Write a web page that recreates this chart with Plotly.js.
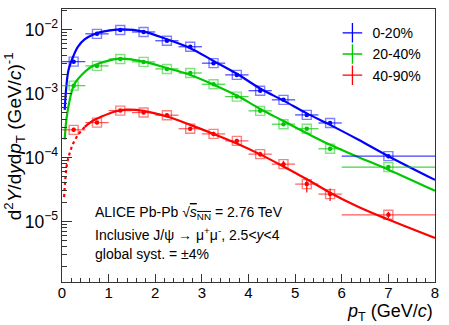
<!DOCTYPE html>
<html>
<head>
<meta charset="utf-8">
<script src="https://cdn.plot.ly/plotly-3.0.1.min.js"></script>
<style>body{margin:0;padding:0;background:#fff}#chart{width:449px;height:325px}</style>
</head>
<body>
<div id="chart"></div>
<script>
// ---- data ----
const binCenters = [0.25, 0.75, 1.25, 1.75, 2.25, 2.75, 3.25, 3.75, 4.25, 4.75, 5.25, 5.75, 7.0];
const binHalfWidths = [0.25, 0.25, 0.25, 0.25, 0.25, 0.25, 0.25, 0.25, 0.25, 0.25, 0.25, 0.25, 1.0];

const yield0_20 = [3.16e-3, 8.6e-3, 9.9e-3, 9.2e-3, 6.7e-3, 5.4e-3, 2.99e-3, 1.96e-3, 1.11e-3, 7.98e-4, 4.64e-4, 3.47e-4, 1.05e-4];
const stat0_20 = [1.5e-4, 3e-4, 3e-4, 3e-4, 2e-4, 2e-4, 1e-4, 7e-5, 5e-5, 4e-5, 2.5e-5, 2e-5, 8e-6];

const yield20_40 = [1.33e-3, 2.71e-3, 3.48e-3, 3.13e-3, 2.43e-3, 2.1e-3, 1.40e-3, 8.97e-4, 5.37e-4, 3.32e-4, 2.82e-4, 1.37e-4, 7.08e-5];
const stat20_40 = [8e-5, 1.3e-4, 1.5e-4, 1.3e-4, 1e-4, 9e-5, 7e-5, 5e-5, 3e-5, 2e-5, 1.8e-5, 1e-5, 5e-6];

const yield40_90 = [2.71e-4, 3.52e-4, 5.42e-4, 5.05e-4, 4.59e-4, 2.82e-4, 2.34e-4, 1.82e-4, 1.13e-4, 7.88e-5, 3.84e-5, 2.68e-5, 1.27e-5];
const stat40_90 = [2e-5, 2.5e-5, 3e-5, 3e-5, 3e-5, 2e-5, 2e-5, 1.5e-5, 1e-5, 1e-5, 1e-5, 6e-6, 1.5e-6];

// fit curves
const fitPt0_20 = [0.058, 0.093, 0.14, 0.24, 0.34, 0.49, 0.7, 1.0, 1.3, 1.75, 2.25, 2.75, 3.25, 3.75, 4.25, 4.75, 5.25, 5.75, 6.35, 7.0, 8.0];
const fitY0_20 = [5.56e-4, 1.29e-3, 2.34e-3, 3.80e-3, 5.37e-3, 7.08e-3, 8.57e-3, 9.64e-3, 1.01e-2, 9.33e-3, 7.08e-3, 5.13e-3, 3.24e-3, 2.04e-3, 1.20e-3, 7.76e-4, 4.90e-4, 3.24e-4, 1.91e-4, 1.05e-4, 4.47e-5];

const fitPt20_40 = [0.058, 0.093, 0.165, 0.26, 0.42, 0.63, 0.92, 1.25, 1.75, 2.25, 2.75, 3.25, 3.75, 4.25, 4.75, 5.25, 5.75, 6.35, 7.0, 8.0];
const fitY20_40 = [1.91e-4, 3.89e-4, 7.94e-4, 1.38e-3, 1.95e-3, 2.63e-3, 3.16e-3, 3.51e-3, 3.16e-3, 2.51e-3, 1.95e-3, 1.38e-3, 9.33e-4, 5.75e-4, 3.72e-4, 2.40e-4, 1.58e-4, 1.02e-4, 6.46e-5, 3.02e-5];

const fitPt40_90_extrap = [0.045, 0.07, 0.11, 0.165, 0.24, 0.34, 0.49];
const fitY40_90_extrap = [2.40e-5, 4.47e-5, 8.13e-5, 1.17e-4, 1.66e-4, 2.24e-4, 3.02e-4];
const fitPt40_90 = [0.49, 0.63, 0.85, 1.14, 1.39, 1.75, 2.25, 2.75, 3.25, 3.75, 4.25, 4.75, 5.25, 5.75, 6.35, 7.0, 8.0];
const fitY40_90 = [3.02e-4, 3.63e-4, 4.37e-4, 5.25e-4, 5.62e-4, 5.37e-4, 4.37e-4, 3.24e-4, 2.34e-4, 1.66e-4, 1.12e-4, 7.24e-5, 4.57e-5, 2.82e-5, 1.70e-5, 1.07e-5, 5.50e-6];

const seriesNames = ['0-20%', '20-40%', '40-90%'];
const xTickVals = [0, 1, 2, 3, 4, 5, 6, 7, 8];
const xTickLabels = ['0', '1', '2', '3', '4', '5', '6', '7', '8'];

// ---- styling ----
const FONT = 'Liberation Sans, Arial, Helvetica, sans-serif';
const cols = ['rgb(0,0,255)', 'rgb(0,200,0)', 'rgb(255,0,0)'];
const boxCols = ['rgba(0,0,255,0.5)', 'rgba(0,200,0,0.5)', 'rgba(255,0,0,0.5)'];
const errCols = ['rgba(0,0,255,0.75)', 'rgba(0,200,0,0.75)', 'rgba(255,0,0,0.65)'];

const yields = [yield0_20, yield20_40, yield40_90];
const stats = [stat0_20, stat20_40, stat40_90];

const traces = [];
// fit lines first (behind points)
traces.push({x: fitPt0_20, y: fitY0_20, mode: 'lines', line: {color: cols[0], width: 2.2, shape: 'spline'}, showlegend: false, hoverinfo: 'skip'});
traces.push({x: fitPt20_40, y: fitY20_40, mode: 'lines', line: {color: cols[1], width: 2.2, shape: 'spline'}, showlegend: false, hoverinfo: 'skip'});
traces.push({x: fitPt40_90_extrap, y: fitY40_90_extrap, mode: 'lines', line: {color: cols[2], width: 2.2, dash: 'dot', shape: 'spline'}, showlegend: false, hoverinfo: 'skip'});
traces.push({x: fitPt40_90, y: fitY40_90, mode: 'lines', line: {color: cols[2], width: 2.2, shape: 'spline'}, showlegend: false, hoverinfo: 'skip'});

for (let i = 0; i < 3; i++) {
  // systematic boxes
  traces.push({
    x: binCenters, y: yields[i], mode: 'markers', showlegend: false, hoverinfo: 'skip',
    marker: {symbol: 'square-open', size: 9, color: boxCols[i], line: {width: 1.4, color: boxCols[i]}}
  });
  // points with stat errors and bin widths
  traces.push({
    x: binCenters, y: yields[i], mode: 'markers', name: seriesNames[i], showlegend: false,
    marker: {symbol: 'circle', size: 4.5, color: cols[i]},
    error_x: {type: 'data', array: binHalfWidths, color: errCols[i], thickness: 1.2, width: 0},
    error_y: {type: 'data', array: stats[i], color: cols[i], thickness: 1.2, width: 0}
  });
}
// legend keys (cross like the point + error bars)
for (let i = 0; i < 3; i++) {
  traces.push({
    x: [null], y: [null], mode: 'markers', name: seriesNames[i], showlegend: true,
    marker: {symbol: 'cross-thin-open', size: 14, color: cols[i], line: {width: 1.3, color: cols[i]}}
  });
}

const layout = {
  width: 449, height: 325,
  margin: {l: 62, r: 14, t: 9, b: 43},
  paper_bgcolor: '#fff', plot_bgcolor: '#fff',
  font: {family: FONT, size: 15, color: '#000'},
  showlegend: true,
  legend: {x: 0.725, y: 0.97, xanchor: 'left', yanchor: 'top', bgcolor: 'rgba(0,0,0,0)', font: {family: FONT, size: 14}, itemwidth: 30, tracegroupgap: 0},
  xaxis: {
    range: [0, 8], showgrid: false, zeroline: false, showline: true, linecolor: '#333', linewidth: 1, mirror: true,
    ticks: 'inside', ticklen: 8, tickcolor: '#333', tickvals: xTickVals, ticktext: xTickLabels,
    tickfont: {family: FONT, size: 15}, ticklabelstandoff: -3,
    minor: {ticks: 'inside', ticklen: 4, tickcolor: '#333', dtick: 0.2, showgrid: false}
  },
  yaxis: {
    type: 'log', range: [-5.947, -1.677], showgrid: false, zeroline: false, showline: true, linecolor: '#333', linewidth: 1, mirror: true,
    ticks: 'inside', ticklen: 10, tickcolor: '#333', dtick: 1, exponentformat: 'power',
    tickfont: {family: FONT, size: 14},
    minor: {ticks: 'inside', ticklen: 5, tickcolor: '#333', dtick: 'D1', showgrid: false}
  },
  annotations: [
    {xref: 'paper', yref: 'paper', x: 1.0, y: -0.062, xanchor: 'right', yanchor: 'top', showarrow: false,
     text: '<i>p</i><sub>T</sub> (GeV/<i>c</i>)', font: {family: FONT, size: 18}},
    {xref: 'paper', yref: 'paper', x: -0.125, y: 0.535, xanchor: 'center', yanchor: 'middle', showarrow: false, textangle: -90,
     text: 'd<sup>2</sup><i>Y</i>/d<i>y</i>d<i>p</i><sub>T</sub> (GeV/<i>c</i>)<sup>-1</sup>', font: {family: FONT, size: 19}},
    {xref: 'paper', yref: 'paper', x: 0.082, y: 0.253, xanchor: 'left', yanchor: 'middle', showarrow: false, align: 'left',
     text: "ALICE Pb-Pb √<span style='text-decoration:overline'><i>s</i><sub>NN</sub></span> = 2.76 TeV", font: {family: FONT, size: 14}},
    {xref: 'paper', yref: 'paper', x: 0.082, y: 0.176, xanchor: 'left', yanchor: 'middle', showarrow: false, align: 'left',
     text: 'Inclusive J/ψ → μ<sup>+</sup>μ<sup>-</sup>, 2.5<<i>y</i><4', font: {family: FONT, size: 14}},
    {xref: 'paper', yref: 'paper', x: 0.082, y: 0.103, xanchor: 'left', yanchor: 'middle', showarrow: false, align: 'left',
     text: 'global syst. = ±4%', font: {family: FONT, size: 14}}
  ]
};

Plotly.newPlot('chart', traces, layout, {staticPlot: true, displayModeBar: false});
</script>
</body>
</html>
